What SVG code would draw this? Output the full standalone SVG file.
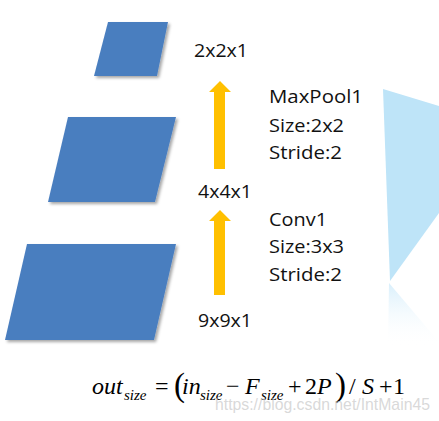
<svg xmlns="http://www.w3.org/2000/svg" width="439" height="421" viewBox="0 0 439 421">
  <defs>
    <style>
      .layer { fill: #4A7EBF; filter: url(#shadow); }
      .arrow { fill: #FFC000; }
      .lbl { font-family: "Open Sans", "Noto Sans", "DejaVu Sans", sans-serif; font-size: 19px; fill: #111111; }
      .math { font-family: "Liberation Serif", "Times New Roman", serif; font-size: 24px; fill: #000000; }
      .it { font-style: italic; }
      .par { font-size: 33px; }
      .sub { font-family: "Liberation Serif", "Times New Roman", serif; font-style: italic; font-size: 15px; fill: #000000; }
      .wm { font-family: "Liberation Sans", Arial, sans-serif; font-size: 17px; fill: #C8C8C8; fill-opacity: 0.7; }
    </style>
    <filter id="shadow" x="-10%" y="-10%" width="130%" height="130%">
      <feDropShadow dx="2" dy="2" stdDeviation="1.5" flood-color="#000000" flood-opacity="0.35"/>
    </filter>
    <linearGradient id="refl" x1="0" y1="0" x2="0" y2="1">
      <stop offset="0" stop-color="#D4EDFB" stop-opacity="0.9"/>
      <stop offset="1" stop-color="#FFFFFF" stop-opacity="0"/>
    </linearGradient>
  </defs>
  <rect width="439" height="421" fill="#FFFFFF"/>

  <g id="decor">
    <polygon points="383,89 439,106 439,213 390,281" fill="#BEE4F8"/>
    <polygon points="389,283 439,342 439,346 388,346" fill="url(#refl)"/>
  </g>

  <g id="node-2x2x1">
    <polygon class="layer" points="108,22 168,22 157,76 94,76"/>
    <text class="lbl" x="194" y="57" textLength="54" lengthAdjust="spacingAndGlyphs">2x2x1</text>
  </g>
  <g id="node-4x4x1">
    <polygon class="layer" points="68,117 176,117 155,202 48,202"/>
    <text class="lbl" x="198" y="198" textLength="54" lengthAdjust="spacingAndGlyphs">4x4x1</text>
  </g>
  <g id="node-9x9x1">
    <polygon class="layer" points="27,244 176,244 154,340 5,340"/>
    <text class="lbl" x="198" y="327" textLength="54" lengthAdjust="spacingAndGlyphs">9x9x1</text>
  </g>

  <g id="connectors">
    <polygon class="arrow" points="220,81 231,92 225,92 225,169 214,169 214,92 209,92"/>
    <polygon class="arrow" points="220,210 231,221 225,221 225,295 214,295 214,221 209,221"/>
  </g>

  <g id="labels">
    <text class="lbl" x="269" y="103" textLength="94" lengthAdjust="spacingAndGlyphs">MaxPool1</text>
    <text class="lbl" x="269" y="132" textLength="75" lengthAdjust="spacingAndGlyphs">Size:2x2</text>
    <text class="lbl" x="269" y="159" textLength="73" lengthAdjust="spacingAndGlyphs">Stride:2</text>
    <text class="lbl" x="269" y="226" textLength="58" lengthAdjust="spacingAndGlyphs">Conv1</text>
    <text class="lbl" x="269" y="253" textLength="75" lengthAdjust="spacingAndGlyphs">Size:3x3</text>
    <text class="lbl" x="269" y="281" textLength="73" lengthAdjust="spacingAndGlyphs">Stride:2</text>
  </g>

  <g id="formula">
    <text class="math it" x="92" y="394">out</text>
    <text class="sub" x="124" y="400">size</text>
    <text class="math" x="155" y="394">=</text>
    <text class="math par" x="174" y="396">(</text>
    <text class="math it" x="182" y="394">in</text>
    <text class="sub" x="200" y="400">size</text>
    <text class="math" x="226" y="394">−</text>
    <text class="math it" x="245" y="394">F</text>
    <text class="sub" x="261" y="400">size</text>
    <text class="math" x="288" y="394">+</text>
    <text class="math" x="305" y="394">2</text>
    <text class="math it" x="317" y="394">P</text>
    <text class="math par" x="335" y="396">)</text>
    <text class="math" x="349" y="394">/</text>
    <text class="math it" x="362" y="394">S</text>
    <text class="math" x="379" y="394">+</text>
    <text class="math" x="393" y="394">1</text>
  </g>

  <text class="wm" x="215" y="410" textLength="215" lengthAdjust="spacingAndGlyphs">https://blog.csdn.net/IntMain45</text>
</svg>
